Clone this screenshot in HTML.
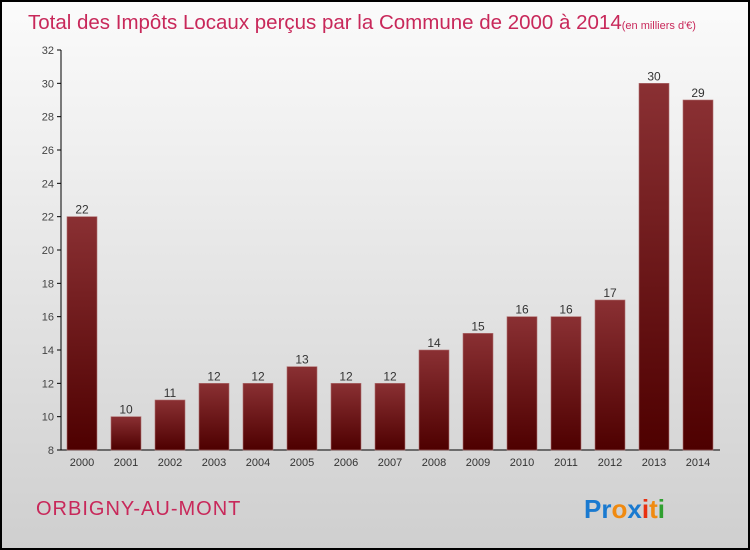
<!DOCTYPE html>
<html><head><meta charset="utf-8"><style>
body{margin:0}
#wrap{position:relative;width:746px;height:546px;border:2px solid #000;background:linear-gradient(#fbfbfb,#cfcfcf);font-family:"Liberation Sans",sans-serif;overflow:hidden}
</style></head><body>
<div id="wrap">
<svg id="svg" width="746" height="546" style="position:absolute;left:0;top:0">
<defs><linearGradient id="bg" x1="0" y1="0" x2="0" y2="1"><stop offset="0" stop-color="#8a3033"/><stop offset="1" stop-color="#4e0000"/></linearGradient></defs>
<text x="26" y="27" font-size="20.5" fill="#c8285a">Total des Impôts Locaux perçus par la Commune de 2000 à 2014<tspan font-size="11">(en milliers d'€)</tspan></text>
<text x="34" y="513" font-size="20" fill="#c8285a" letter-spacing="1">ORBIGNY-AU-MONT</text>
<text x="582" y="516" font-size="26" font-weight="bold"><tspan fill="#1a7ad0">Pr</tspan><tspan fill="#f08a10">o</tspan><tspan fill="#1a7ad0">x</tspan><tspan fill="#e83010">i</tspan><tspan fill="#f08a10">t</tspan><tspan fill="#30a030">i</tspan></text>
<g id="g"></g>
</svg>
</div>
<script>
const years=["2000","2001","2002","2003","2004","2005","2006","2007","2008","2009","2010","2011","2012","2013","2014"];
const values=[22,10,11,12,12,13,12,12,14,15,16,16,17,30,29];
const yTicks=[8,10,12,14,16,18,20,22,24,26,28,30,32];
const NS="http://www.w3.org/2000/svg",g=document.getElementById('g');
const y=v=>448-(v-8)*400/24, x=i=>80+i*44;
function mk(t,a,txt){const e=document.createElementNS(NS,t);for(const k in a)e.setAttribute(k,a[k]);if(txt!==undefined)e.textContent=txt;g.appendChild(e);return e;}
let ax=mk('line',{x1:59,y1:48,x2:59,y2:448,stroke:'#000'});

let bx=mk('line',{x1:59,y1:448,x2:718,y2:448,stroke:'#000'});

yTicks.forEach(t=>{
 const l=mk('line',{x1:55,y1:y(t),x2:59,y2:y(t),stroke:'#000'});
 
 const s=mk('text',{x:52,y:y(t)+4,'font-size':11,fill:'#444','text-anchor':'end'},t);
 
});
years.forEach((yr,i)=>{
 const r=mk('rect',{x:x(i)-15,y:y(values[i]),width:30,height:448-y(values[i]),fill:'url(#bg)',stroke:'#b07070','stroke-width':0.6});
 
 const v=mk('text',{x:x(i),y:y(values[i])-3,'font-size':12,fill:'#333','text-anchor':'middle'},values[i]);
 
 const t=mk('text',{x:x(i),y:464,'font-size':11,fill:'#333','text-anchor':'middle'},yr);
 
});
</script>
</body></html>
